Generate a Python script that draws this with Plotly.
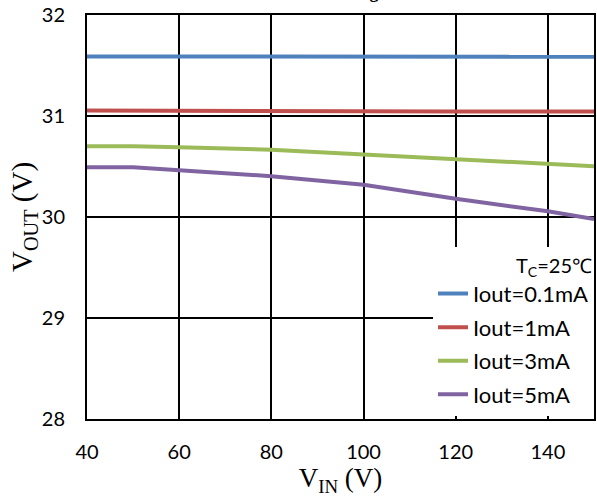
import plotly.graph_objects as go

vin = [40, 50, 60, 80, 100, 120, 140, 150]
iout_01 = [31.59, 31.59, 31.59, 31.587, 31.586, 31.586, 31.586, 31.586]
iout_1 = [31.054, 31.054, 31.054, 31.053, 31.047, 31.045, 31.044, 31.044]
iout_3 = [30.70, 30.70, 30.69, 30.666, 30.62, 30.576, 30.527, 30.503]
iout_5 = [30.493, 30.493, 30.463, 30.404, 30.32, 30.18, 30.056, 29.98]
names = ["Iout=0.1mA", "Iout=1mA", "Iout=3mA", "Iout=5mA"]
colors = ["#4F81BD", "#C0504D", "#9BBB59", "#8064A2"]
series = [iout_01, iout_1, iout_3, iout_5]
xticks = [40, 60, 80, 100, 120, 140]
yticks = [28, 29, 30, 31, 32]

fig = go.Figure()
for n, c, s in zip(names, colors, series):
    fig.add_trace(go.Scatter(x=vin, y=s, mode="lines", name=n, legendgroup=n,
                             line=dict(color=c, width=4)))

tickfont = dict(family="Lato", size=20, color="black")
fig.update_layout(
    width=597, height=499,
    margin=dict(l=87, r=1, t=15, b=80),
    plot_bgcolor="white", paper_bgcolor="white",
    showlegend=True,
    legend=dict(
        x=1, y=0.008, xanchor="right", yanchor="bottom",
        bgcolor="white", borderwidth=0,
        font=dict(family="Lato", size=22, color="black"),
        title=dict(text="T<sub>C</sub>=25\u2103", side="top right",
                   font=dict(family="Lato", size=20, color="black")),
        tracegroupgap=2,
    ),
    xaxis=dict(
        range=[40, 150], tickvals=xticks, showgrid=True, gridcolor="black",
        gridwidth=2, showline=True, linecolor="black", linewidth=2, mirror=True,
        ticks="inside", ticklen=6, tickcolor="black", tickwidth=2,
        tickfont=tickfont, ticklabelstandoff=14, zeroline=False,
        title=dict(text="V<sub>IN</sub> (V)", standoff=2,
                   font=dict(family="Liberation Serif", size=27, color="black")),
    ),
    yaxis=dict(
        range=[28, 32], tickvals=yticks, showgrid=True, gridcolor="black",
        gridwidth=2, showline=True, linecolor="black", linewidth=2, mirror=True,
        ticks="inside", ticklen=6, tickcolor="black", tickwidth=2,
        tickfont=tickfont, ticklabelstandoff=16, zeroline=False,
        title=dict(text="V<sub>OUT</sub> (V)", standoff=0,
                   font=dict(family="Liberation Serif", size=29, color="black")),
    ),
)
fig.add_annotation(text="<b>Line Regulation</b>", xref="paper", yref="paper",
                   x=0.56, y=1.0, yshift=11, yanchor="bottom", showarrow=False,
                   font=dict(family="Liberation Serif", size=18, color="black"))
fig.write_html("out.html")
